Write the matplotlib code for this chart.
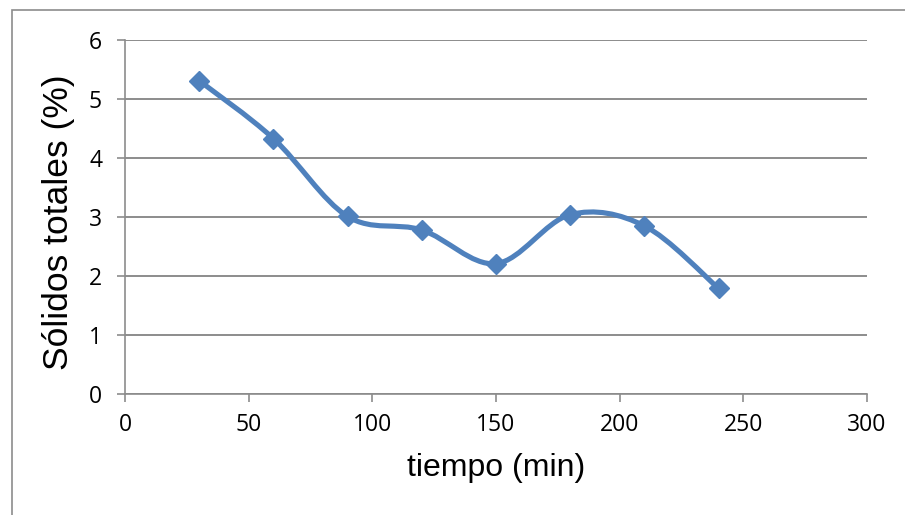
import matplotlib
matplotlib.use("Agg")
import matplotlib.pyplot as plt
import numpy as np
from matplotlib.path import Path
from matplotlib.patches import PathPatch, Rectangle

tiempo = [30, 60, 90, 120, 150, 180, 210, 240]
solidos = [5.31, 4.33, 3.01, 2.78, 2.21, 3.04, 2.85, 1.79]
xticks = [0, 50, 100, 150, 200, 250, 300]
yticks = [0, 1, 2, 3, 4, 5, 6]

color = "#4F81BD"
grid_c = "#8C8C8C"

fig = plt.figure(figsize=(9.05, 5.15), dpi=100)
fig.patches.append(Rectangle((12/905, -0.05), 1.2, (515-10)/515 + 0.05, transform=fig.transFigure,
                             fill=False, edgecolor="#8C8C8C", linewidth=1.2))
ax = fig.add_axes([125/905, 1-394/515, (867-125)/905, (394-40)/515])

# Excel-like smoothed line (cubic Bezier through points)
x = np.array(tiempo, float)
y = np.array(solidos, float)
verts = [(x[0], y[0])]
codes = [Path.MOVETO]
n = len(x)
for i in range(n-1):
    p0 = np.array([x[max(i-1, 0)], y[max(i-1, 0)]])
    p1 = np.array([x[i], y[i]])
    p2 = np.array([x[i+1], y[i+1]])
    p3 = np.array([x[min(i+2, n-1)], y[min(i+2, n-1)]])
    c1 = p1 + (p2 - p0) / 6
    c2 = p2 - (p3 - p1) / 6
    verts += [tuple(c1), tuple(c2), tuple(p2)]
    codes += [Path.CURVE4]*3
patch = PathPatch(Path(verts, codes), facecolor="none", edgecolor=color, linewidth=3.7,
                  capstyle="round", joinstyle="round", zorder=3)
ax.add_patch(patch)
ax.plot(tiempo, solidos, linestyle="none", marker="D", markersize=10, color=color, zorder=4)

ax.set_xlim(0, 300)
ax.set_ylim(0, 6)
ax.set_xticks(xticks)
ax.set_yticks(yticks)
ax.set_xticklabels([str(v) for v in xticks], fontsize=16.5, family="Open Sans")
ax.set_yticklabels([str(v) for v in yticks], fontsize=16.5, family="Open Sans")
ax.yaxis.grid(True, color=grid_c, linewidth=1.4)
ax.set_axisbelow(True)
for s in ["top", "right"]:
    ax.spines[s].set_visible(False)
for s in ["left", "bottom"]:
    ax.spines[s].set_color(grid_c)
    ax.spines[s].set_linewidth(1.2)
ax.tick_params(axis="both", direction="out", length=5.5, color=grid_c, width=1.2)
ax.tick_params(axis="x", pad=8)
ax.tick_params(axis="y", pad=11)
ax.set_xlabel("tiempo (min)", fontsize=23, family="Liberation Sans")
ax.set_ylabel("Sólidos totales (%)", fontsize=25.5, family="Liberation Sans")
ax.xaxis.set_label_coords((496-125)/742, -(468-394)/354)
ax.yaxis.set_label_coords(-(125-58)/742, (394-222)/354)
ax.xaxis.label.set_va("center")
ax.yaxis.label.set_va("center")

fig.savefig("out.png", dpi=100)
